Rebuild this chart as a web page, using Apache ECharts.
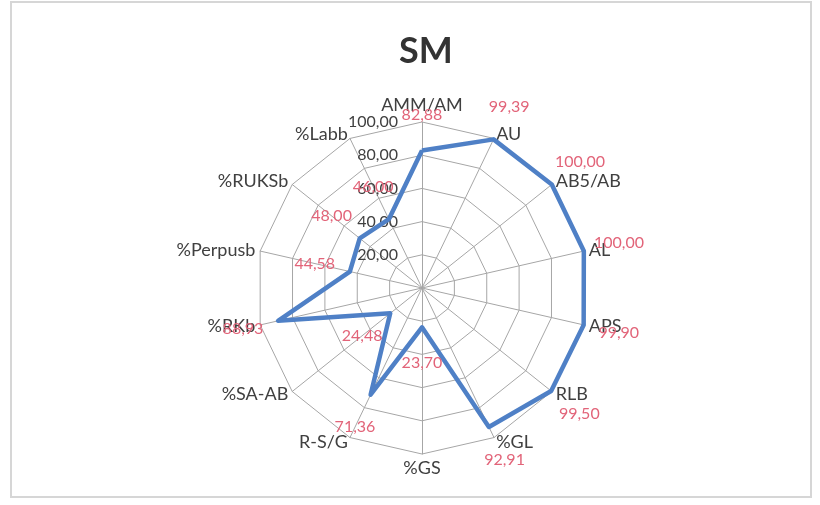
<!DOCTYPE html>
<html lang="en">
<head>
    <meta charset="UTF-8">
    <title>SM</title>
    <script src="https://cdn.jsdelivr.net/npm/echarts@6/dist/echarts.min.js"></script>
    <style>
        body { margin: 0; background: #fff; }
    </style>
</head>
<body>

<div id="main" style="width: 820px;height:505px;"></div>

<script type="text/javascript">
    // indicators, clockwise from the top as in the picture
    var categories = ['AMM/AM', 'AU', 'AB5/AB', 'AL', 'APS', 'RLB', '%GL',
        '%GS', 'R-S/G', '%SA-AB', '%RKb', '%Perpusb', '%RUKSb', '%Labb'];
    var values = [82.88, 99.39, 100.00, 100.00, 99.90, 99.50, 92.91,
        23.70, 71.36, 24.48, 88.93, 44.58, 48.00, 46.00];
    var axisMax = 100;
    var axisSplit = 5;

    var cx = 422, cy = 288, radius = 166;

    // echarts lays the indicators out counter-clockwise, so keep the first and reverse the rest
    function clockwise(arr) {
        return [arr[0]].concat(arr.slice(1).reverse());
    }

    function comma(v) {
        return v.toFixed(2).replace('.', ',');
    }

    var indicator = clockwise(categories).map(function (name, i) {
        var item = { name: name, max: axisMax, min: 0 };
        if (i === 0) {
            item.axisLabel = { show: true };
        }
        return item;
    });

    var myChart = echarts.init(document.getElementById('main'));

    myChart.setOption({
        animation: false,
        title: {
            text: 'SM',
            left: 421,
            top: 28,
            textAlign: 'center',
            textStyle: {
                fontFamily: 'Lato',
                fontSize: 36,
                fontWeight: 'bold',
                color: '#333333'
            }
        },
        graphic: [{
            type: 'rect',
            shape: { x: 11, y: 2, width: 800, height: 495 },
            style: { fill: 'none', stroke: '#d6d6d6', lineWidth: 2 },
            silent: true
        }],
        radar: {
            center: [cx, cy],
            radius: radius,
            startAngle: 90,
            shape: 'polygon',
            splitNumber: axisSplit,
            indicator: indicator,
            axisName: {
                color: '#404040',
                fontFamily: 'Lato',
                fontSize: 18
            },
            nameGap: 5,
            axisLine: { lineStyle: { color: '#a6a6a6', width: 1 } },
            splitLine: { lineStyle: { color: '#a6a6a6', width: 1 } },
            splitArea: { show: false },
            axisTick: { show: false },
            axisLabel: {
                show: false,
                color: '#404040',
                fontFamily: 'Lato',
                fontSize: 16,
                margin: 24,
                formatter: function (v) {
                    return v === 0 ? '' : comma(v);
                }
            }
        },
        series: [{
            name: 'SM',
            type: 'radar',
            symbol: 'circle',
            symbolSize: 2,
            itemStyle: { color: '#4f80c6' },
            lineStyle: { color: '#4f80c6', width: 4.5 },
            label: {
                show: true,
                color: '#e26479',
                fontFamily: 'Lato',
                fontSize: 16,
                formatter: function (p) {
                    return comma(p.value);
                }
            },
            // push each value label outward along its spoke
            labelLayout: function (p) {
                var px = p.rect.x + p.rect.width / 2;
                var py = p.rect.y + p.rect.height / 2;
                var dx = px - cx, dy = py - cy;
                var len = Math.sqrt(dx * dx + dy * dy) || 1;
                return {
                    x: px + dx / len * 36,
                    y: py + dy / len * 36,
                    align: 'center',
                    verticalAlign: 'middle'
                };
            },
            data: [{
                name: 'SM',
                value: clockwise(values)
            }]
        }]
    });
</script>

</body>
</html>
